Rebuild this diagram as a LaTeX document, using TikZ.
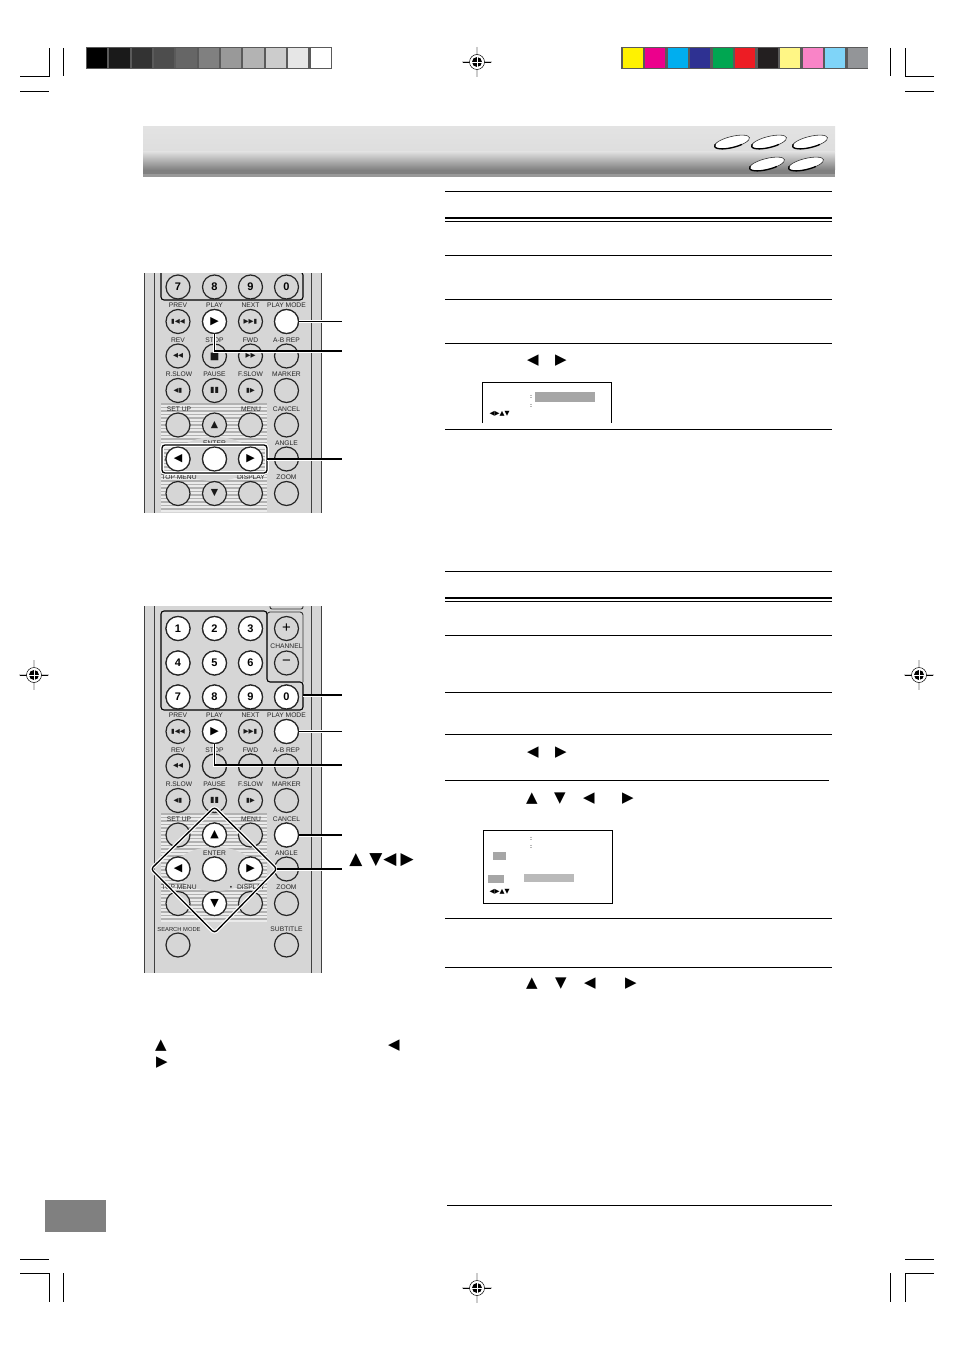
\documentclass[tikz,border=0pt]{standalone}
\usepackage{fontspec}
\setmainfont{Liberation Sans}
\newfontfamily\symfont{DejaVu Sans}
\definecolor{remoteface}{HTML}{D6D6D6}
\definecolor{frameband}{HTML}{5A5A5A}
\newcommand{\glR}{{\symfont ▶}}
\newcommand{\glL}{{\symfont ◀}}
\newcommand{\glU}{{\symfont ▲}}
\newcommand{\glD}{{\symfont ▼}}
\tikzset{
    btn/.style={circle,draw=black!85,line width=1.2pt,fill=remoteface,minimum size=24pt,inner sep=0pt,font=\fontsize{11}{11}\selectfont\bfseries},
    btnon/.style={btn,fill=white},
    glyph/.style={font=\fontsize{6.5}{6.5}\selectfont\symfont,text=black!90},
    keylabel/.style={font=\fontsize{6.7}{7}\selectfont,text=black!85,inner sep=0pt},
    rule/.style={black,line width=0.8pt},
    callout/.style={preaction={draw=white,line width=3pt},black,line width=1.3pt},
    tri/.style={font=\fontsize{15}{15}\selectfont\symfont,inner sep=0pt},
    halo/.style={preaction={draw=white,line width=3.6pt},draw=black,line width=1.3pt,rounded corners=3pt},
    crop/.style={black,line width=0.8pt},
    mini/.style={font=\fontsize{6.5}{6.5}\selectfont\symfont,inner sep=0pt},
    minidot/.style={font=\fontsize{6}{6}\selectfont\bfseries,inner sep=0pt,text=black!80},
}
\newcommand{\regmark}[2]{
    \draw[black!20,line width=1.6pt] (#1-15,#2) -- (#1+15,#2) (#1,#2-15) -- (#1,#2+15);
    \draw[black,line width=0.5pt] (#1-14,#2) -- (#1+14,#2);
    \fill[white] (#1,#2) circle [radius=7.5];
    \draw[black,line width=0.5pt] (#1,#2) circle [radius=7.5];
    \fill[black] (#1,#2) circle [radius=5];
    \draw[white,line width=0.8pt] (#1-5,#2) -- (#1+5,#2) (#1,#2-5) -- (#1,#2+5);
}
% the part of the remote both pictures share
\newcommand{\remotebody}{
    \fill[remoteface] (144,590) rectangle (322,980);
    \foreach \lx in {144,154,311,321.5} {
        \draw[black!75,line width=0.9pt] (\lx,590) -- (\lx,980);
    }
    \fill[black!8] (161,813) rectangle (267,922);
    \foreach \sy in {814,817.5,...,922} {
        \draw[black!30,line width=1.3pt] (161,\sy) -- (267,\sy);
    }
    \fill[remoteface] (214.5,869) ellipse [x radius=40,y radius=22];
    \draw[black,line width=1.1pt,rounded corners=3pt] (161,611) -- (267,611) -- (267,682) -- (303,682) -- (303,710) -- (161,710) -- cycle;
    \draw[black!80,line width=0.9pt,rounded corners=3pt] (267,640) -- (267,612) -- (303,612) -- (303,682);
    \draw[black!80,line width=0.9pt,rounded corners=2pt] (270,598) -- (270,609) -- (303,609) -- (303,598);
    \foreach \cx/\ry/\num in {178/628.5/1,214.5/628.5/2,250.5/628.5/3,178/663/4,214.5/663/5,250.5/663/6,178/697/7,214.5/697/8,250.5/697/9,286.5/697/0} {
        \node[btn] at (\cx,\ry) {\num};
    }
    \node[btn] at (286.5,628.5) {\fontsize{15}{15}\selectfont\mdseries +};
    \node[btn] at (286.5,663) {\fontsize{15}{15}\selectfont\mdseries −};
    \foreach \cx/\ry/\gly in {178/731.5/▮◀◀,250.5/731.5/▶▶▮,178/766/◀◀,250.5/766/▶▶,178/800.5/◀▮,250.5/800.5/▮▶} {
        \node[btn] at (\cx,\ry) {}; \node[glyph] at (\cx,\ry) {\gly};
    }
    \node[btn] at (214.5,731.5) {};
    \node[btn] at (214.5,766) {}; \node[glyph,font=\fontsize{10}{10}\selectfont\symfont] at (214.5,766.5) {■};
    \node[btn] at (214.5,800.5) {}; \node[glyph,font=\fontsize{8}{8}\selectfont\symfont] at (214.5,800.5) {▮▮};
    \foreach \cx/\ry in {286.5/731.5,286.5/766,286.5/800.5,178/835,250.5/835,286.5/835,286.5/869,178/869,214.5/869,250.5/869,178/903.5,250.5/903.5,286.5/903.5,214.5/835,214.5/903.5,178/945,286.5/945} {
        \node[btn] at (\cx,\ry) {};
    }
    \node[glyph,font=\fontsize{9.5}{9.5}\selectfont\symfont] at (214.5,835) {▲};
    \node[glyph,font=\fontsize{9.5}{9.5}\selectfont\symfont] at (214.5,903.5) {▼};
    \foreach \cx/\ly/\txt in {178/715.5/PREV,214.5/715.5/PLAY,250.5/715.5/NEXT,286.5/715.5/PLAY MODE,178/750/REV,214.5/750/STOP,250.5/750/FWD,286.5/750/A-B REP,179/784.5/R.SLOW,214.5/784.5/PAUSE,250.5/784.5/F.SLOW,286.5/784.5/MARKER,179/819/SET UP,251/819/MENU,286.5/819/CANCEL,214.5/853/ENTER,286.5/853/ANGLE,179/887.5/TOP MENU,251/887.5/DISPLAY,286.5/887.5/ZOOM,286.5/929.5/SUBTITLE,286.5/646/CHANNEL} {
        \node[keylabel] at (\cx,\ly) {\txt};
    }
    \node[keylabel,font=\fontsize{5.8}{6}\selectfont] at (179,929.5) {SEARCH MODE};
}
\begin{document}
\begin{tikzpicture}[x=1pt,y=-1pt]
    \useasboundingbox (0,0) rectangle (954,1351);

    % colour bars
    \fill[frameband] (86,47) rectangle (332,69);
    \foreach \i/\gv in {0/000000,1/1A1A1A,2/333333,3/4D4D4D,4/666666,5/808080,6/999999,7/B3B3B3,8/CCCCCC,9/E6E6E6,10/FFFFFF} {
        \definecolor{barcol}{HTML}{\gv}
        \fill[barcol] ({87+\i*22.35},48) rectangle ({107.3+\i*22.35},68);
    }
    \fill[frameband] (621,47) rectangle (868,69);
    \foreach \i/\gv in {0/FFF200,1/EC008C,2/00AEEF,3/2E3192,4/00A651,5/ED1C24,6/231F20,7/FFF685,8/F984C7,9/7FD4F8,10/939598} {
        \definecolor{barcol}{HTML}{\gv}
        \fill[barcol] ({623+\i*22.45},48) rectangle ({643+\i*22.45},68);
    }

    % crop marks
    \draw[crop] (20,76) -- (49,76) -- (49,48) (63,48) -- (63,76) (20,91) -- (49,91);
    \draw[crop] (934,76) -- (905,76) -- (905,48) (890,48) -- (890,76) (934,91) -- (905,91);
    \draw[crop] (20,1273) -- (49,1273) -- (49,1302) (63,1273) -- (63,1302) (20,1259) -- (49,1259);
    \draw[crop] (934,1273) -- (905,1273) -- (905,1302) (890,1273) -- (890,1302) (934,1259) -- (905,1259);
    \regmark{477}{62}
    \regmark{34}{675}
    \regmark{919}{675}
    \regmark{477}{1288}

    % heading band and discs
    \shade[top color=black!11,bottom color=black!13] (143,126.5) rectangle (835,152);
    \shade[top color=black!13,bottom color=black!50] (143,152) rectangle (835,170);
    \fill[black!50] (143,170) rectangle (835,174.5);
    \fill[black!40] (143,174.5) rectangle (835,177);
    \foreach \dx/\dy in {732/142,769/142,810/142,767/164,806/164} {
        \draw[black!80,fill=white,line width=0.6pt,rotate around={14:(\dx,\dy)}] (\dx,\dy) ellipse [x radius=18,y radius=5.5];
        \draw[black,line width=1.3pt,rotate around={14:(\dx,\dy)}] (\dx+9,\dy+4.76) arc [start angle=60,end angle=200,x radius=18,y radius=5.5];
    }

    % rules of the right column
    \foreach \ry in {191,221.5,255,299,343,429,571,601.5,635,692,734,918,967} {
        \draw[rule] (445,\ry) -- (832,\ry);
    }
    \draw[rule,line width=1.5pt] (445,218) -- (832,218) (445,598) -- (832,598);
    \draw[rule] (445,780) -- (829,780);
    \draw[rule] (447,1205) -- (832,1205);

    % first remote
    \begin{scope}[yshift=410pt,name prefix=a-]
        \clip (143,683) rectangle (322,922);
        \remotebody
        \draw[halo] (162,855) rectangle (267,883);
        \node[btnon] (mode) at (286.5,731.5) {};
        \node[btnon] (play) at (214.5,731.5) {\glR};
        \node[btnon] (left) at (178,869) {\glL};
        \node[btnon] (enter) at (214.5,869) {};
        \node[btnon] (right) at (250.5,869) {\glR};
        \coordinate (boxend) at (267,869);
    \end{scope}
    \coordinate (a-mode-end) at (342,321.5);
    \coordinate (a-play-end) at (342,351);
    \coordinate (a-box-end) at (342,459);
    \draw[callout] (a-mode) -- (a-mode-end);
    \draw[callout] (a-play) |- (a-play-end);
    \draw[callout] (a-boxend) -- (a-box-end);

    % second remote
    \begin{scope}[name prefix=b-]
        \clip (143,606) rectangle (322,972);
        \remotebody
        \foreach \cx/\ry/\num in {178/628.5/1,214.5/628.5/2,250.5/628.5/3,178/663/4,214.5/663/5,250.5/663/6,178/697/7,214.5/697/8,250.5/697/9,286.5/697/0} {
            \node[btnon] at (\cx,\ry) {\num};
        }
        \node[keylabel] at (231,887.5) {•};
        \node[btn] (stop) at (214.5,766) {};
        \node[btn] (fwd) at (250.5,766) {};
        \node[btnon] (mode) at (286.5,731.5) {};
        \node[btnon] (play) at (214.5,731.5) {\glR};
        \node[btnon] (cancel) at (286.5,835) {};
        \node[btnon] (up) at (214.5,835) {\glU};
        \node[btnon] (left) at (178,869) {\glL};
        \node[btnon] (enter) at (214.5,869) {};
        \node[btnon] (right) at (250.5,869) {\glR};
        \node[btnon] (down) at (214.5,903.5) {\glD};
        \draw[halo] (214.5,807) -- (277,869) -- (214.5,933) -- (151,869) -- cycle;
        \coordinate (diaend) at (277,869);
        \coordinate (numend) at (303,695);
    \end{scope}
    \coordinate (b-num-end) at (342,695);
    \coordinate (b-mode-end) at (342,731.5);
    \coordinate (b-play-end) at (342,765);
    \coordinate (b-cancel-end) at (342,835);
    \coordinate (b-dia-end) at (342,869);
    \draw[callout] (b-numend) -- (b-num-end);
    \draw[callout] (b-mode) -- (b-mode-end);
    \draw[callout] (b-play) |- (b-play-end);
    \draw[callout] (b-cancel) -- (b-cancel-end);
    \draw[callout] (b-diaend) -- (b-dia-end);
    \node[tri,font=\fontsize{17}{17}\selectfont\symfont] (arrowkeys) at (381.5,860) {▲\hspace{7pt}▼\hspace{1pt}◀\hspace{4pt}▶};

    % arrow marks in the text
    \foreach \tx/\ty/\gly in {533/361/◀,561/361/▶,533/753/◀,561/753/▶,532/799/▲,560/799/▼,589/799/◀,628/799/▶,532/984/▲,561/984/▼,590/984/◀,631/984/▶,161/1046/▲,394/1046/◀,162/1063/▶} {
        \node[tri] at (\tx,\ty) {\gly};
    }

    % first screen
    \draw[black,line width=0.9pt] (482,423) -- (482,382) -- (611,382) -- (611,423);
    \fill[black!35] (535,392) rectangle (595,402);
    \node[minidot] at (531,397) {:};
    \node[minidot] at (531,405.5) {:};
    \node[mini] at (499.5,414) {◀▶▲▼};

    % second screen
    \draw[black,line width=0.9pt] (483,830) rectangle (612,903);
    \node[minidot] at (531,838.5) {:};
    \node[minidot] at (531,847) {:};
    \fill[black!35] (493,852) rectangle (506,860);
    \fill[black!35] (488,875) rectangle (504,883);
    \fill[black!27] (524,874) rectangle (574,882);
    \node[mini] at (499.5,892) {◀▶▲▼};

    % page tab
    \fill[black!50] (45,1200) rectangle (106,1232);
\end{tikzpicture}
\end{document}
